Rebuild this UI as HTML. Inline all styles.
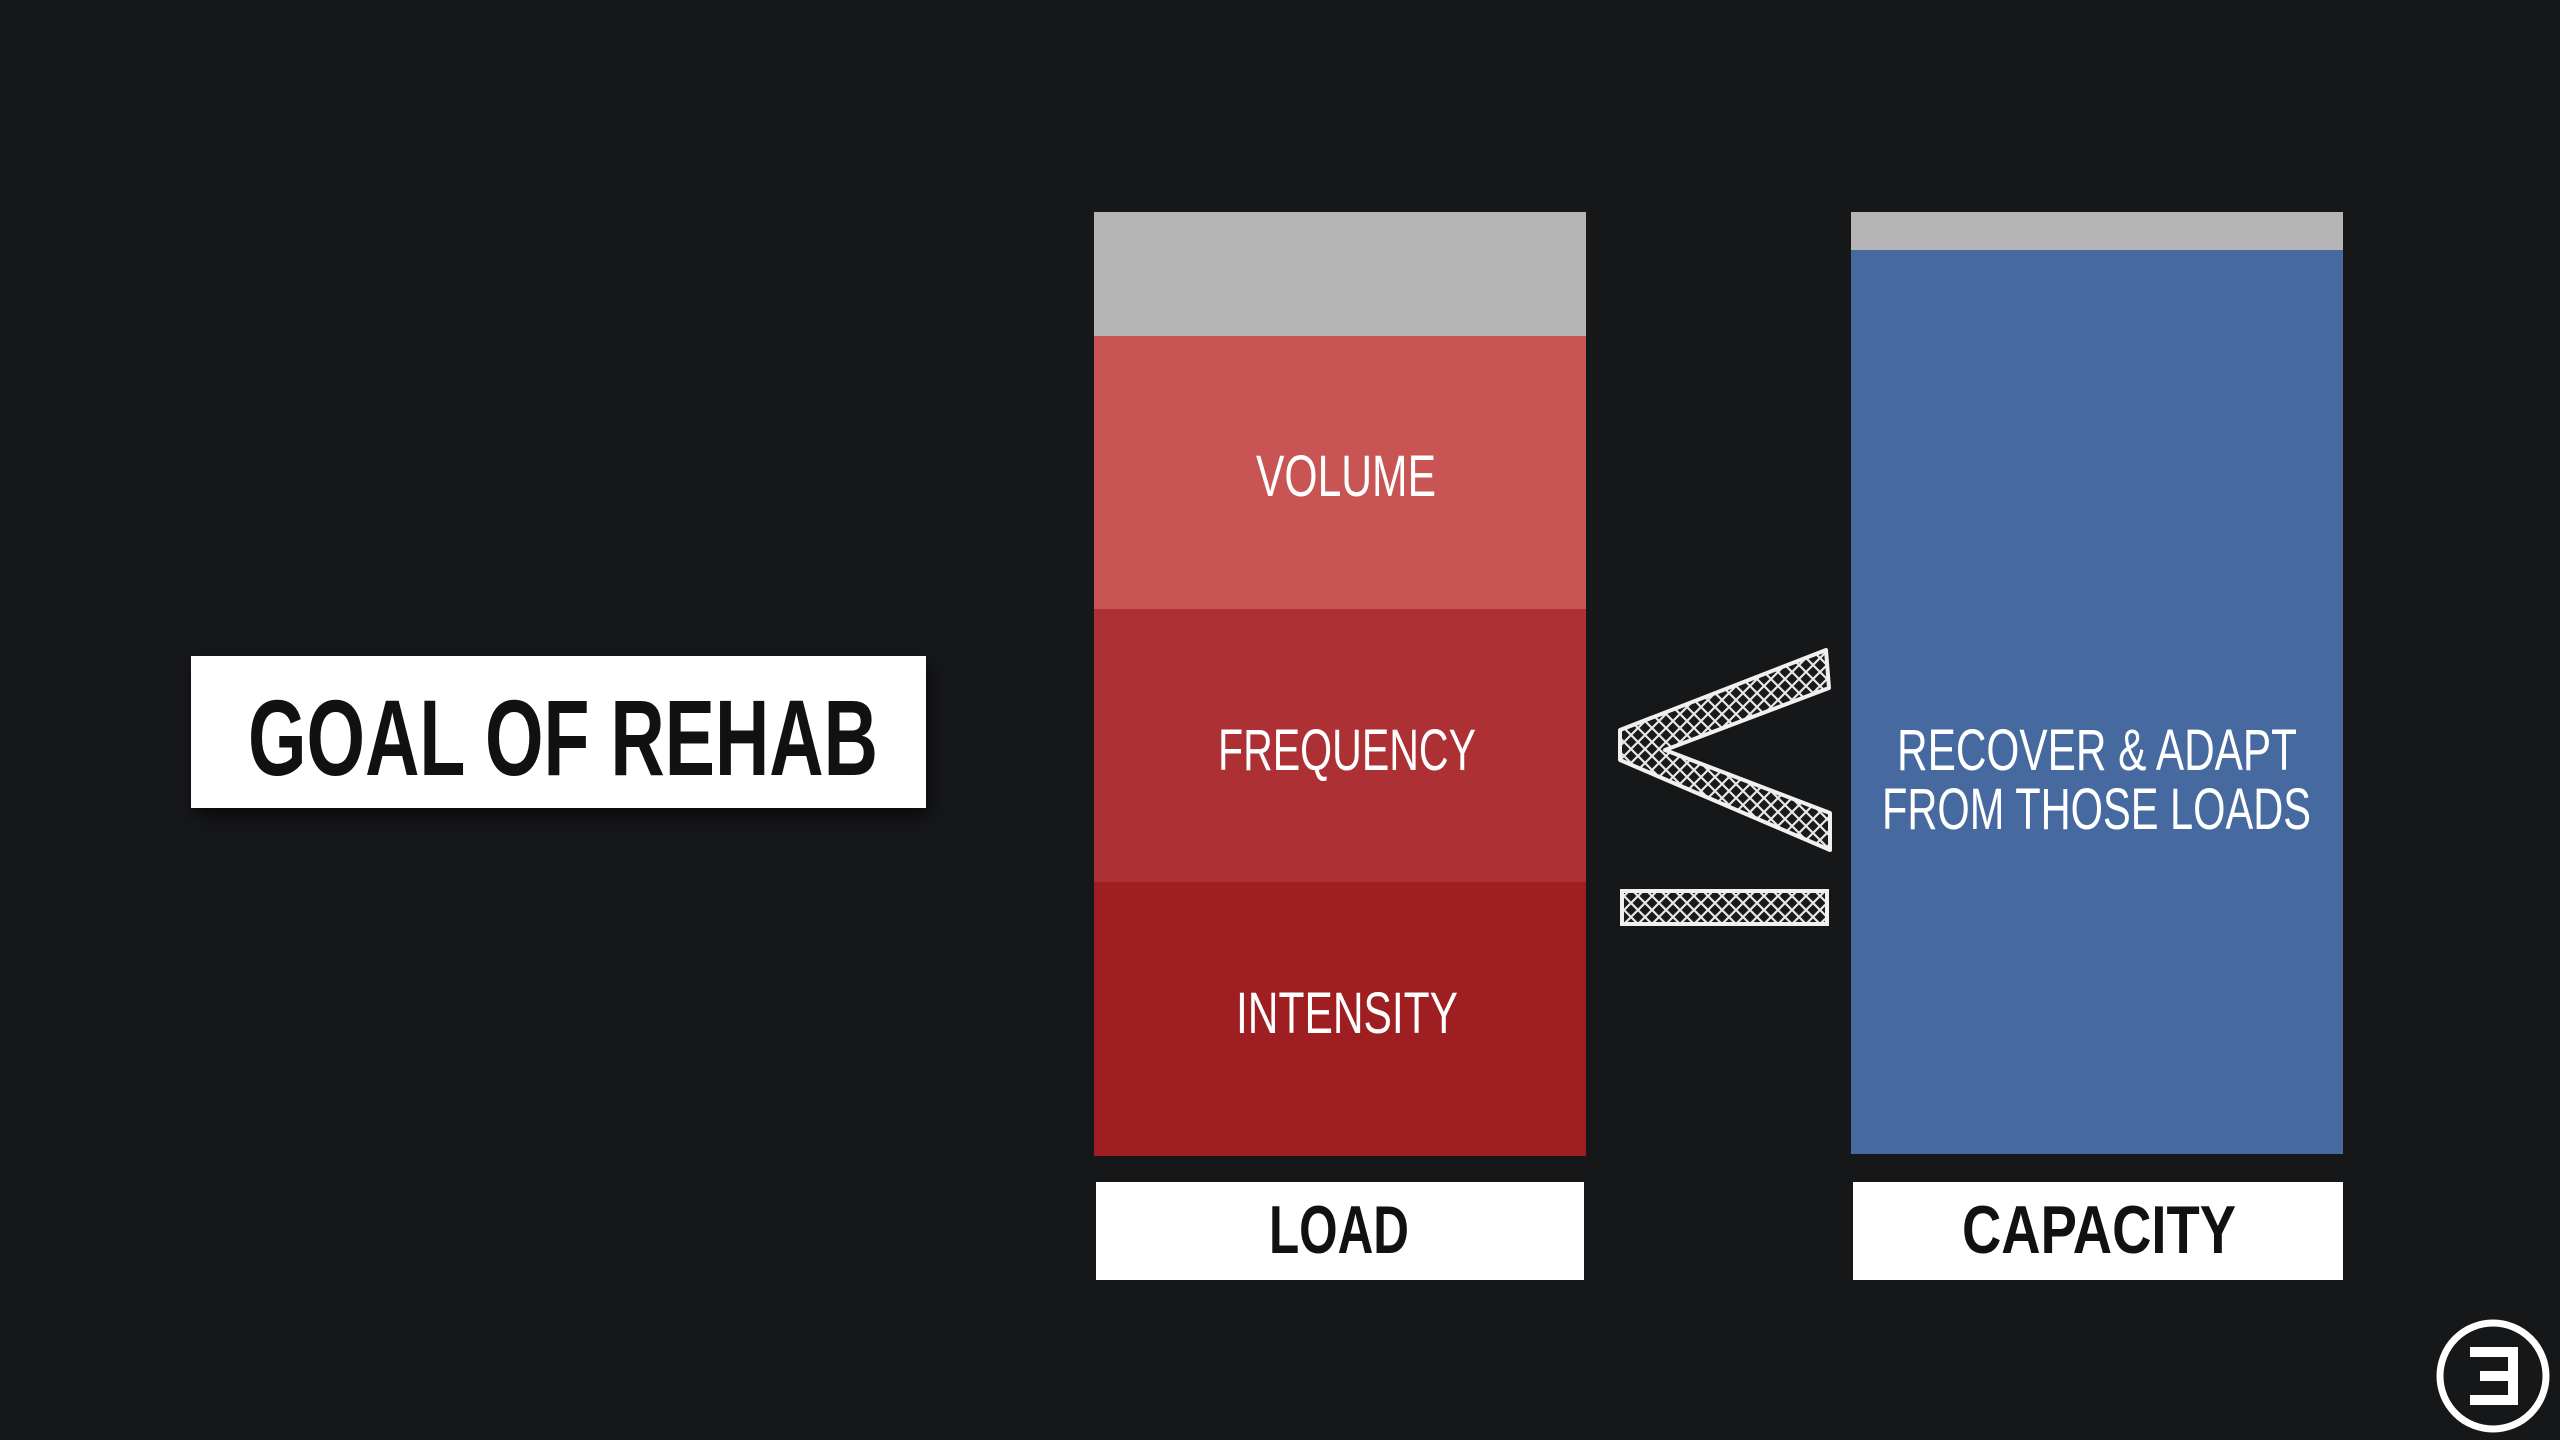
<!DOCTYPE html>
<html><head><meta charset="utf-8"><style>
html,body{margin:0;padding:0;background:#161719;}
svg{display:block;}
text{font-family:"Liberation Sans",sans-serif;}
</style></head><body>
<svg width="2560" height="1440" viewBox="0 0 2560 1440" xmlns="http://www.w3.org/2000/svg">
<defs>
<pattern id="hatch" width="14" height="14" patternUnits="userSpaceOnUse">
<rect width="14" height="14" fill="#1a1a1a"/>
<path d="M0 0L14 14M14 0L0 14" stroke="#e8e8e8" stroke-width="2.2"/>
</pattern>
<filter id="sh" x="-10%" y="-10%" width="130%" height="140%"><feDropShadow dx="4" dy="8" stdDeviation="8" flood-color="#000" flood-opacity="0.6"/></filter>
</defs>
<rect width="2560" height="1440" fill="#161719"/>

<rect x="191" y="656" width="735" height="152" fill="#ffffff" filter="url(#sh)"/>
<text x="248" y="775" font-size="108" font-weight="bold" fill="#111" textLength="630" lengthAdjust="spacingAndGlyphs">GOAL OF REHAB</text>

<rect x="1094" y="212" width="492" height="125" fill="#b5b5b5"/>
<rect x="1094" y="336" width="492" height="274" fill="#c85454"/>
<rect x="1094" y="609" width="492" height="274" fill="#ad3134"/>
<rect x="1094" y="882" width="492" height="274" fill="#9e1e21"/>
<text x="1256" y="496" font-size="58" fill="#fff" textLength="180" lengthAdjust="spacingAndGlyphs">VOLUME</text>
<text x="1218" y="770" font-size="58" fill="#fff" textLength="258" lengthAdjust="spacingAndGlyphs">FREQUENCY</text>
<text x="1236" y="1033" font-size="58" fill="#fff" textLength="222" lengthAdjust="spacingAndGlyphs">INTENSITY</text>
<rect x="1096" y="1182" width="488" height="98" fill="#fff"/>
<text x="1269" y="1253" font-size="68" font-weight="bold" fill="#111" textLength="140" lengthAdjust="spacingAndGlyphs">LOAD</text>

<rect x="1851" y="212" width="492" height="39" fill="#b5b5b5"/>
<rect x="1851" y="250" width="492" height="904" fill="#46699f"/>
<text x="1897" y="770" font-size="58" fill="#fff" textLength="400" lengthAdjust="spacingAndGlyphs">RECOVER &amp; ADAPT</text>
<text x="1882" y="829" font-size="58" fill="#fff" textLength="429" lengthAdjust="spacingAndGlyphs">FROM THOSE LOADS</text>
<rect x="1853" y="1182" width="490" height="98" fill="#fff"/>
<text x="1962" y="1253" font-size="68" font-weight="bold" fill="#111" textLength="274" lengthAdjust="spacingAndGlyphs">CAPACITY</text>

<polygon points="1826,650 1829,688 1665,750 1830,813 1830,850 1620,760 1620,730" fill="url(#hatch)" stroke="#f0f0f0" stroke-width="4" stroke-linejoin="round"/>
<rect x="1622" y="891" width="205" height="33" fill="url(#hatch)" stroke="#f0f0f0" stroke-width="4"/>

<circle cx="2493" cy="1376" r="53" fill="none" stroke="#fff" stroke-width="7"/>
<path d="M2470 1352H2513V1400H2470M2480 1376H2513" fill="none" stroke="#fff" stroke-width="10"/>
</svg>
</body></html>
